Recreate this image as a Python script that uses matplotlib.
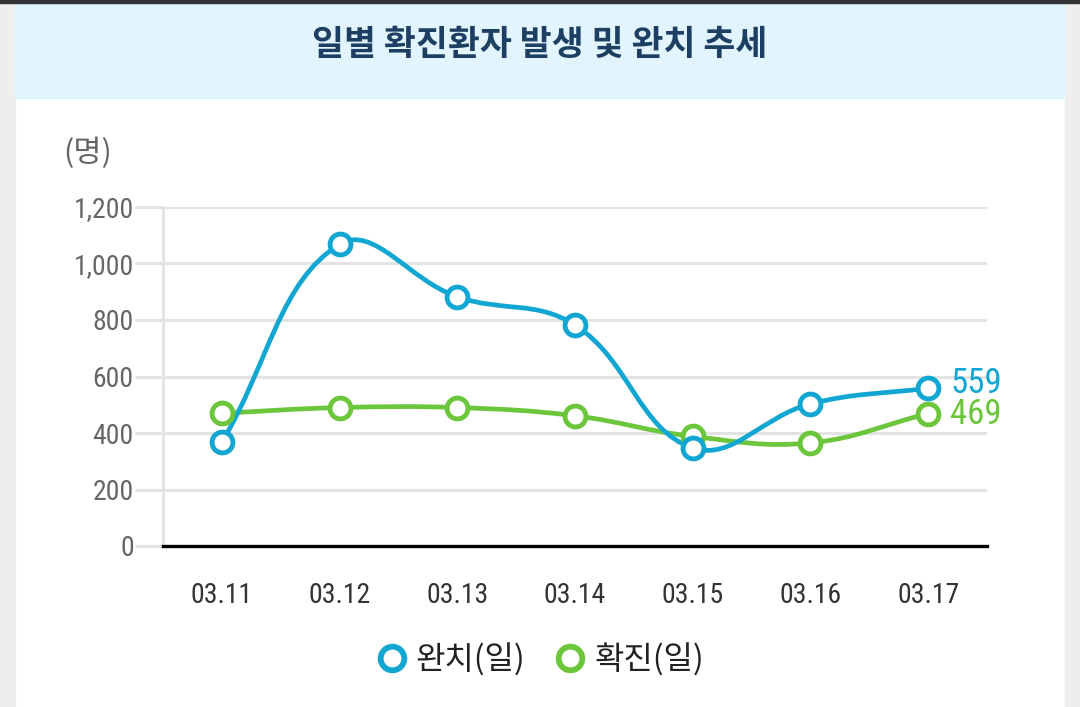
import numpy as np
import matplotlib.pyplot as plt
from matplotlib.path import Path
from matplotlib.patches import PathPatch, Rectangle
from matplotlib.lines import Line2D
from matplotlib import font_manager

# 데이터
dates = ['03.11', '03.12', '03.13', '03.14', '03.15', '03.16', '03.17']
recovered = [367, 1068, 882, 782, 347, 503, 559]   # 완치(일)
confirmed = [470, 490, 490, 461, 388, 365, 469]    # 확진(일)
yticks = [0, 200, 400, 600, 800, 1000, 1200]
ytick_labels = ['0', '200', '400', '600', '800', '1,000', '1,200']

BLUE = '#12a6d3'
GREEN = '#6cc63c'

installed = {f.name for f in font_manager.fontManager.ttflist}
num_font = [f for f in ['Liberation Sans Narrow', 'Roboto Condensed', 'Roboto'] if f in installed]
num_font = num_font[:1] + ['DejaVu Sans']
kr_font = ['Noto Sans CJK KR', 'DejaVu Sans']
plt.rcParams['font.family'] = kr_font


def spline_patch(ax, xs, ys, color, t=0.4):
    # chart.js 식 곡선 (픽셀 공간에서 제어점 계산)
    pts = ax.transData.transform(np.column_stack([xs, ys]))
    n = len(pts)
    cps = []
    for i in range(n):
        prev = pts[max(i - 1, 0)]
        cur = pts[i]
        nxt = pts[min(i + 1, n - 1)]
        d01 = np.hypot(*(cur - prev))
        d12 = np.hypot(*(nxt - cur))
        s = d01 + d12
        fa = t * d01 / s if s else 0
        fb = t * d12 / s if s else 0
        cps.append((cur - fa * (nxt - prev), cur + fb * (nxt - prev)))
    verts = [pts[0]]
    codes = [Path.MOVETO]
    for i in range(n - 1):
        verts += [cps[i][1], cps[i + 1][0], pts[i + 1]]
        codes += [Path.CURVE4] * 3
    path = Path(ax.transData.inverted().transform(np.array(verts)), codes)
    return PathPatch(path, fill=False, edgecolor=color, lw=3.4, zorder=3,
                     capstyle='round', joinstyle='round', clip_on=False)


fig = plt.figure(figsize=(10.8, 7.07), dpi=100)
fig.patch.set_facecolor('white')

# 배경 (양옆 회색, 제목 띠)
fig.add_artist(Rectangle((0, 0), 15 / 1080, 1, transform=fig.transFigure, color='#eeeeee', zorder=0))
fig.add_artist(Rectangle((1065 / 1080, 0), 15 / 1080, 1, transform=fig.transFigure, color='#eeeeee', zorder=0))
fig.add_artist(Rectangle((15 / 1080, 1 - 98 / 707), 1050 / 1080, 95 / 707,
                         transform=fig.transFigure, color='#e2f4fd', zorder=0))
fig.add_artist(Rectangle((0, 1 - 3 / 707), 1, 3 / 707, transform=fig.transFigure, color='#333333', zorder=0))

fig.text(0.5, 1 - 45 / 707, '일별 확진환자 발생 및 완치 추세', ha='center', va='center',
         fontsize=25, fontweight='heavy', color='#1d3f61')
fig.text(88 / 1080, 1 - 153 / 707, '(명)', ha='center', va='center', fontsize=22, color='#666666')

ax = fig.add_axes([163 / 1080, 161 / 707, 824 / 1080, 339 / 707])
ax.set_facecolor('none')
x = np.arange(len(dates))
ax.set_xlim(-0.5, len(dates) - 0.5)
ax.set_ylim(0, 1200)

ax.set_yticks(yticks)
ax.set_yticklabels(ytick_labels)
ax.set_xticks(x)
ax.set_xticklabels(dates)
for lab in ax.get_yticklabels() + ax.get_xticklabels():
    lab.set_fontfamily(num_font)

ax.yaxis.grid(True, color='#e3e3e3', lw=2.2)
ax.set_axisbelow(True)
ax.tick_params(axis='y', length=20, width=2.2, color='#e3e3e3', pad=1, labelsize=20, labelcolor='#666666')
ax.tick_params(axis='x', length=0, pad=26, labelsize=20, labelcolor='#333333')
for s in ['top', 'right']:
    ax.spines[s].set_visible(False)
ax.spines['left'].set_color('#e3e3e3')
ax.spines['left'].set_linewidth(2)
ax.spines['bottom'].set_color('black')
ax.spines['bottom'].set_linewidth(2.4)
ax.spines['bottom'].set_zorder(4)
t0 = ax.yaxis.get_major_ticks()[0]
t0.tick1line.set_color('black')
t0.tick1line.set_markeredgewidth(2.4)

for vals, col in [(confirmed, GREEN), (recovered, BLUE)]:
    ax.add_patch(spline_patch(ax, x, vals, col))
    ax.plot(x, vals, ls='none', marker='o', ms=15, mfc='white', mec=col, mew=3.5,
            zorder=5, clip_on=False)

ax.annotate(str(recovered[-1]), (x[-1], recovered[-1]), xytext=(16, 3), textcoords='offset points',
            ha='left', va='center', fontsize=25, color=BLUE, family=num_font)
ax.annotate(str(confirmed[-1]), (x[-1], confirmed[-1]), xytext=(16, -1), textcoords='offset points',
            ha='left', va='center', fontsize=25, color=GREEN, family=num_font)

handles = [
    Line2D([], [], ls='none', marker='o', ms=17, mfc='white', mec=BLUE, mew=4.2, label='완치(일)'),
    Line2D([], [], ls='none', marker='o', ms=17, mfc='white', mec=GREEN, mew=4.2, label='확진(일)'),
]
fig.legend(handles=handles, loc='center', bbox_to_anchor=(0.5, 1 - 660 / 707), ncol=2, frameon=False,
           fontsize=23, handlelength=1.0, handletextpad=0.25, columnspacing=0.9, labelcolor='#222222')

fig.savefig('out.png', dpi=100)
